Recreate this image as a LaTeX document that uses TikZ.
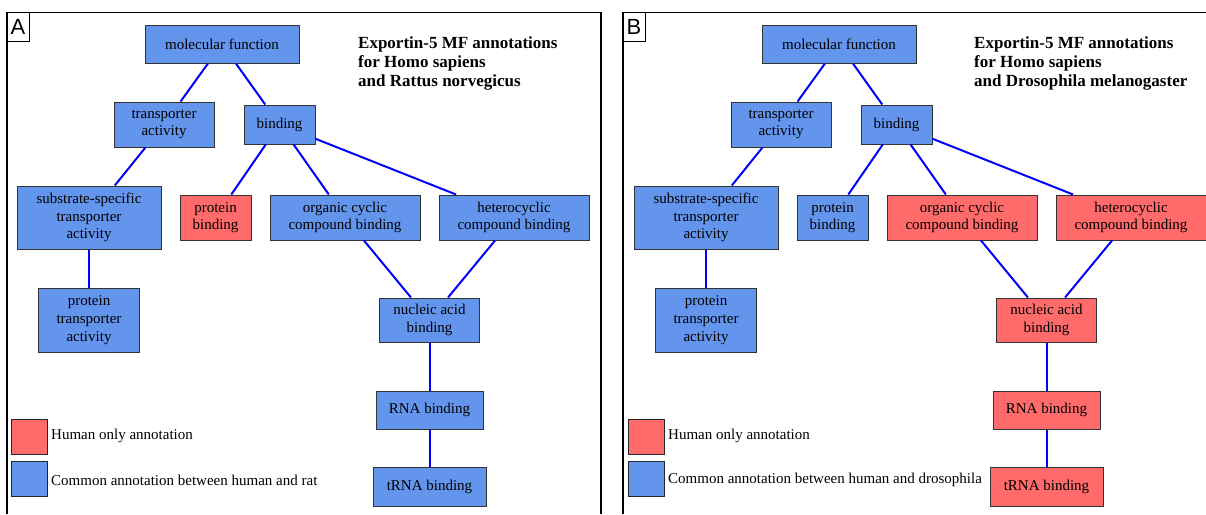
\documentclass[tikz,border=0pt]{standalone}
\usepackage{fontspec}
\setmainfont{Liberation Serif}
\newfontfamily\panelfont{Liberation Sans}
\definecolor{commonblue}{RGB}{100,149,237}
\definecolor{humanred}{RGB}{255,106,106}
\definecolor{edgeblue}{RGB}{0,0,255}
\tikzset{
  term/.style={draw=black!80, line width=1pt, align=center, inner sep=0pt,
    font=\fontsize{15}{17.7}\selectfont},
  common/.style={term, fill=commonblue},
  human/.style={term, fill=humanred},
  keybox/.style={draw=black!85, line width=1pt, minimum width=36pt, minimum height=35pt, inner sep=0pt},
  keytext/.style={anchor=west, inner sep=0pt, font=\fontsize{15}{17.7}\selectfont},
  heading/.style={anchor=west, align=left, inner sep=0pt, font=\fontsize{17}{19}\selectfont\bfseries},
  tag/.style={draw, line width=1pt, minimum width=22pt, minimum height=28.5pt, inner sep=0pt,
    font=\panelfont\fontsize{22}{22}\selectfont}
}
\begin{document}
\begin{tikzpicture}[x=1pt, y=-1pt]
      \useasboundingbox (0,0) rectangle (1206,514);
      % panel frames
      \draw[line width=1.3pt] (7,514) -- (7,12.5) -- (601,12.5) -- (601,514);
      \draw[line width=1.3pt] (623,514) -- (623,12.5) -- (1206,12.5);
      \node[tag] (tagA) at (18,26.75) {A};
      \node[tag] (tagB) at (634,26.75) {B};
      % panel A: human vs rat
      \node[heading] (titleA) at (358,63) {Exportin-5 MF annotations\\for Homo sapiens\\and Rattus norvegicus};
      \node[common, minimum width=154pt, minimum height=38pt] (mfA) at (222,44) {molecular function};
      \node[common, minimum width=100pt, minimum height=45pt] (taA) at (164,124.5) {transporter\\activity};
      \node[common, minimum width=71pt, minimum height=39pt] (biA) at (279.5,124.5) {binding};
      \node[common, minimum width=144pt, minimum height=63pt] (ssA) at (89,217.5) {substrate-specific\\transporter\\activity};
      \node[human, minimum width=71pt, minimum height=45pt] (pbA) at (215.5,217.5) {protein\\binding};
      \node[common, minimum width=150pt, minimum height=45pt] (ocA) at (345,217.5) {organic cyclic\\compound binding};
      \node[common, minimum width=150pt, minimum height=45pt] (hcA) at (514,217.5) {heterocyclic\\compound binding};
      \node[common, minimum width=101pt, minimum height=64pt] (ptA) at (89,320) {protein\\transporter\\activity};
      \node[common, minimum width=100pt, minimum height=44pt] (naA) at (429.5,320) {nucleic acid\\binding};
      \node[common, minimum width=107pt, minimum height=38pt] (rnaA) at (429.5,410) {RNA binding};
      \node[common, minimum width=113pt, minimum height=39pt] (trnaA) at (429.5,486.5) {tRNA binding};
      \node[keybox, fill=humanred] (redA) at (29,436.5) {};
      \node[keybox, fill=commonblue] (blueA) at (29,479) {};
      \node[keytext] (redtextA) at (51,436) {Human only annotation};
      \node[keytext] (bluetextA) at (51,480) {Common annotation between human and rat};
      % panel B: human vs fly
      \node[heading] (titleB) at (974,63) {Exportin-5 MF annotations\\for Homo sapiens\\and Drosophila melanogaster};
      \node[common, minimum width=154pt, minimum height=38pt] (mfB) at (839,44) {molecular function};
      \node[common, minimum width=100pt, minimum height=45pt] (taB) at (781,124.5) {transporter\\activity};
      \node[common, minimum width=71pt, minimum height=39pt] (biB) at (896.5,124.5) {binding};
      \node[common, minimum width=144pt, minimum height=63pt] (ssB) at (706,217.5) {substrate-specific\\transporter\\activity};
      \node[common, minimum width=71pt, minimum height=45pt] (pbB) at (832.5,217.5) {protein\\binding};
      \node[human, minimum width=150pt, minimum height=45pt] (ocB) at (962,217.5) {organic cyclic\\compound binding};
      \node[human, minimum width=150pt, minimum height=45pt] (hcB) at (1131,217.5) {heterocyclic\\compound binding};
      \node[common, minimum width=101pt, minimum height=64pt] (ptB) at (706,320) {protein\\transporter\\activity};
      \node[human, minimum width=100pt, minimum height=44pt] (naB) at (1046.5,320) {nucleic acid\\binding};
      \node[human, minimum width=107pt, minimum height=38pt] (rnaB) at (1046.5,410) {RNA binding};
      \node[human, minimum width=113pt, minimum height=39pt] (trnaB) at (1046.5,486.5) {tRNA binding};
      \node[keybox, fill=humanred] (redB) at (646,436.5) {};
      \node[keybox, fill=commonblue] (blueB) at (646,479) {};
      \node[keytext] (redtextB) at (668,436) {Human only annotation};
      \node[keytext] (bluetextB) at (668,480) {Common annotation between human and drosophila};
      \begin{scope}[-, draw=edgeblue, line width=2pt]
        \draw (mfA) to (taA);
        \draw (mfA) to (biA);
        \draw (taA) to (ssA);
        \draw (ssA) to (ptA);
        \draw (biA) to (pbA);
        \draw (biA) to (ocA);
        \draw (biA) to (hcA);
        \draw (ocA) to (naA);
        \draw (hcA) to (naA);
        \draw (naA) to (rnaA);
        \draw (rnaA) to (trnaA);
        \draw (mfB) to (taB);
        \draw (mfB) to (biB);
        \draw (taB) to (ssB);
        \draw (ssB) to (ptB);
        \draw (biB) to (pbB);
        \draw (biB) to (ocB);
        \draw (biB) to (hcB);
        \draw (ocB) to (naB);
        \draw (hcB) to (naB);
        \draw (naB) to (rnaB);
        \draw (rnaB) to (trnaB);
      \end{scope}
    \end{tikzpicture}
\end{document}
